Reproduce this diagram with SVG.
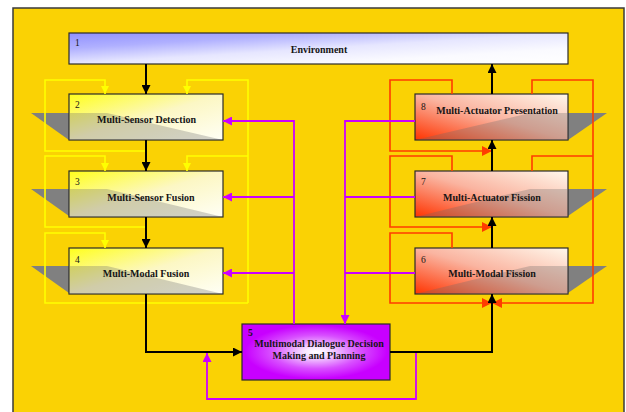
<svg xmlns="http://www.w3.org/2000/svg" width="626" height="412" viewBox="0 0 626 412">
<defs>
<linearGradient id="gEnv" x1="0" y1="0" x2="1" y2="1">
<stop offset="0" stop-color="#9090FF"/><stop offset="0.25" stop-color="#B0B0FF"/><stop offset="0.5" stop-color="#E6E6FF"/><stop offset="0.75" stop-color="#FAFAFF"/><stop offset="1" stop-color="#FFFFFF"/>
</linearGradient>
<linearGradient id="gYel" x1="0" y1="0" x2="1" y2="1">
<stop offset="0" stop-color="#FFFF1A"/><stop offset="0.5" stop-color="#FCF7C4"/><stop offset="1" stop-color="#FFFFF6"/>
</linearGradient>
<linearGradient id="gRed" x1="0" y1="1" x2="1" y2="0">
<stop offset="0" stop-color="#FF3300"/><stop offset="0.5" stop-color="#FAB4A0"/><stop offset="1" stop-color="#FFF8EC"/>
</linearGradient>
<radialGradient id="gMag" cx="0.5" cy="0.5" r="0.6">
<stop offset="0" stop-color="#FFFFFF"/><stop offset="0.12" stop-color="#F8E8FF"/><stop offset="0.5" stop-color="#D850FF"/><stop offset="0.8" stop-color="#C800FF"/><stop offset="1" stop-color="#C800FF"/>
</radialGradient>
<marker id="aK" viewBox="0 0 10 10" refX="10" refY="5" markerWidth="9" markerHeight="9" markerUnits="userSpaceOnUse" orient="auto"><path d="M0,0L10,5L0,10z" fill="#000"/></marker>
<marker id="aY" viewBox="0 0 10 10" refX="10" refY="5" markerWidth="8" markerHeight="8" markerUnits="userSpaceOnUse" orient="auto"><path d="M0,0L10,5L0,10z" fill="#FFFF00"/></marker>
<marker id="aR" viewBox="0 0 10 10" refX="10" refY="5" markerWidth="10" markerHeight="10" markerUnits="userSpaceOnUse" orient="auto"><path d="M0,0L10,5L0,10z" fill="#FF3C00"/></marker>
<marker id="aM" viewBox="0 0 10 10" refX="10" refY="5" markerWidth="9" markerHeight="9" markerUnits="userSpaceOnUse" orient="auto"><path d="M0,0L10,5L0,10z" fill="#CC00FF"/></marker>
</defs>
<style>
.frame{fill:#FAD204;stroke:#3a3a3a;stroke-width:1.5}
.box{stroke:#2a2a2a;stroke-width:1.2}
.sh{fill:#808080}
.shi{fill:#6a6a6a;fill-opacity:0.3}
.lbl{font-family:"Liberation Serif","Times New Roman",serif;font-weight:bold;font-size:10px;fill:#151515;text-anchor:middle}
.num{font-family:"Liberation Serif","Times New Roman",serif;font-size:9.5px;fill:#151515}
.blk{fill:none;stroke:#000;stroke-width:2}
.yel{fill:none;stroke:#FFFF00;stroke-width:1.6}
.red{fill:none;stroke:#FF3C00;stroke-width:1.6}
.mag{fill:none;stroke:#CC00FF;stroke-width:1.8}
</style>
<rect class="frame" x="13" y="8" width="611" height="420"/>

<g id="node1">
<rect class="box" x="69" y="33" width="499" height="31" fill="url(#gEnv)"/>
<text class="num" x="75" y="46">1</text>
<text class="lbl" x="319" y="52.5">Environment</text>
</g>
<g id="node2">
<polygon class="sh" points="31,113 69,113 69,140"/>
<rect class="box" x="69" y="94" width="154" height="46" fill="url(#gYel)"/>
<polygon class="shi" points="69,113 107,113 223,140 69,140"/>
<text class="num" x="75" y="107.5">2</text>
<text class="lbl" x="146.5" y="122.5">Multi-Sensor Detection</text>
</g>
<g id="node3">
<polygon class="sh" points="31,189 69,189 69,216"/>
<rect class="box" x="69" y="171" width="154" height="46" fill="url(#gYel)"/>
<polygon class="shi" points="69,189 107,189 223,217 69,217"/>
<text class="num" x="75" y="184.5">3</text>
<text class="lbl" x="151" y="200.5">Multi-Sensor Fusion</text>
</g>
<g id="node4">
<polygon class="sh" points="31,266 69,266 69,293"/>
<rect class="box" x="69" y="248" width="154" height="46" fill="url(#gYel)"/>
<polygon class="shi" points="69,266 107,266 223,294 69,294"/>
<text class="num" x="75" y="263">4</text>
<text class="lbl" x="146" y="276.5">Multi-Modal Fusion</text>
</g>
<g id="node8">
<polygon class="sh" points="607,113 568,113 568,140"/>
<rect class="box" x="415" y="94" width="153" height="46" fill="url(#gRed)"/>
<polygon class="shi" points="568,113 530,113 415,140 568,140"/>
<text class="num" x="421" y="110">8</text>
<text class="lbl" x="497" y="113.5">Multi-Actuator Presentation</text>
</g>
<g id="node7">
<polygon class="sh" points="607,189 568,189 568,216"/>
<rect class="box" x="415" y="171" width="153" height="46" fill="url(#gRed)"/>
<polygon class="shi" points="568,189 530,189 415,217 568,217"/>
<text class="num" x="421" y="184.5">7</text>
<text class="lbl" x="492" y="200.5">Multi-Actuator Fission</text>
</g>
<g id="node6">
<polygon class="sh" points="607,266 568,266 568,293"/>
<rect class="box" x="415" y="248" width="153" height="46" fill="url(#gRed)"/>
<polygon class="shi" points="568,266 530,266 415,294 568,294"/>
<text class="num" x="421" y="263">6</text>
<text class="lbl" x="492" y="276.5">Multi-Modal Fission</text>
</g>
<g id="node5">
<rect class="box" x="242" y="324" width="148" height="56" fill="url(#gMag)"/>
<text class="num" x="248" y="336" font-weight="bold">5</text>
<text class="lbl" x="319" y="347">Multimodal Dialogue Decision</text>
<text class="lbl" x="319" y="358.5">Making and Planning</text>
</g>

<g id="connectors">
<path class="yel" d="M146,151H45V80H105V94" marker-end="url(#aY)"/>
<path class="yel" d="M248,303V80H187V94" marker-end="url(#aY)"/>
<path class="yel" d="M248,156H187V171" marker-end="url(#aY)"/>
<path class="yel" d="M146,227H45V156H105V171" marker-end="url(#aY)"/>
<path class="yel" d="M248,303H45V233H105V248" marker-end="url(#aY)"/>

<path class="red" d="M452,94V80H390V151H492" marker-end="url(#aR)"/>
<path class="red" d="M532,94V80H593V303H492" marker-end="url(#aR)"/>
<path class="red" d="M532,171V156H593"/>
<path class="red" d="M452,171V156H390V227H492" marker-end="url(#aR)"/>
<path class="red" d="M452,248V233H390V303H492" marker-end="url(#aR)"/>

<path class="mag" d="M294,324V121H223" marker-end="url(#aM)"/>
<path class="mag" d="M294,197H223" marker-end="url(#aM)"/>
<path class="mag" d="M294,273H223" marker-end="url(#aM)"/>
<path class="mag" d="M415,121H345V324" marker-end="url(#aM)"/>
<path class="mag" d="M415,197H345"/>
<path class="mag" d="M415,273H345"/>
<path class="mag" d="M416,352V399H207V353" marker-end="url(#aM)"/>

<path class="blk" d="M146,64V94" marker-end="url(#aK)"/>
<path class="blk" d="M146,140V171" marker-end="url(#aK)"/>
<path class="blk" d="M146,217V248" marker-end="url(#aK)"/>
<path class="blk" d="M146,294V352H242" marker-end="url(#aK)"/>
<path class="blk" d="M390,352H492V294" marker-end="url(#aK)"/>
<path class="blk" d="M492,248V217" marker-end="url(#aK)"/>
<path class="blk" d="M492,171V140" marker-end="url(#aK)"/>
<path class="blk" d="M492,94V64" marker-end="url(#aK)"/>
</g>
</svg>
